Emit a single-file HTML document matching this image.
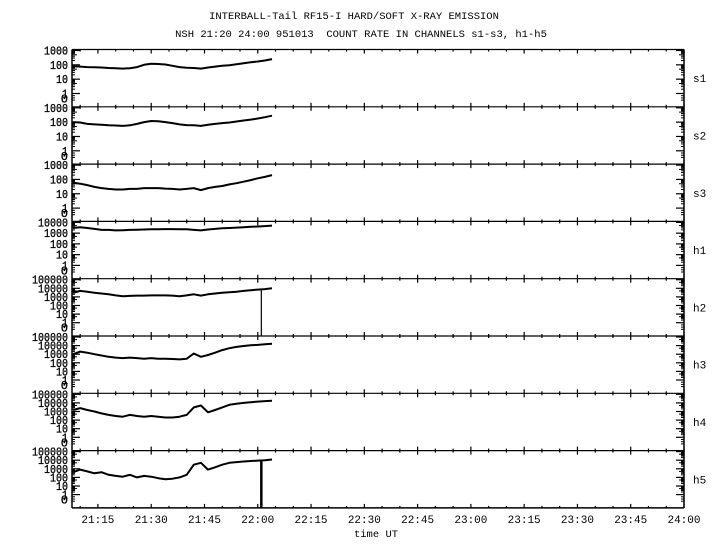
<!DOCTYPE html>
<html><head><meta charset="utf-8"><style>
body{margin:0;background:#fff}
svg{display:block}
text{font-family:"Liberation Mono",monospace;fill:#000}
</style></head><body>
<svg id="chart" width="720" height="550" xmlns="http://www.w3.org/2000/svg">
<text x="354" y="19" font-size="10.5" text-anchor="middle">INTERBALL-Tail RF15-I HARD/SOFT X-RAY EMISSION</text>
<text x="361" y="37" font-size="10.5" text-anchor="middle" xml:space="preserve">NSH 21:20 24:00 951013  COUNT RATE IN CHANNELS s1-s3, h1-h5</text>
<text x="376" y="537" font-size="10.5" text-anchor="middle">time UT</text>
</svg>
<script>
// shared sample times (minutes after 21:00), every 2 min from 21:08 to 22:04
const times = [8,10,12,14,16,18,20,22,24,26,28,30,32,34,36,38,40,42,44,46,48,50,52,54,56,58,60,62,64];
const panelNames = ["s1","s2","s3","h1","h2","h3","h4","h5"];
const panelDecades = [3,3,3,4,5,5,5,5];
const s1 = [80,75,70,68,65,60,58,55,58,70,100,120,115,105,85,70,62,60,55,65,75,85,95,110,130,150,170,200,250];
const s2 = [100,95,75,70,65,60,58,55,60,75,100,120,115,100,85,70,62,60,55,65,75,85,95,110,130,150,180,220,280];
const s3 = [60,50,40,30,25,22,20,20,22,22,25,25,25,23,22,20,22,25,18,25,30,35,45,55,70,90,120,150,200];
const h1 = [3000,3500,3000,2500,2000,2000,1800,1900,2000,2100,2200,2300,2300,2400,2400,2300,2300,2000,1800,2200,2500,2800,3000,3300,3600,4000,4200,4500,5000];
const h2 = [3000,5000,4000,3000,2500,2000,1500,1200,1300,1400,1400,1500,1500,1500,1400,1200,1500,2000,1400,2000,2500,3000,3500,4000,5000,6000,7000,8000,10000];
const h3 = [1000,2000,1500,1000,700,500,400,350,400,350,300,350,300,300,280,250,300,1200,500,800,1500,3000,5000,7000,9000,11000,12000,14000,16000];
const h4 = [1500,2500,1500,1000,600,400,300,250,400,300,250,300,250,200,200,250,400,3000,5000,800,1500,3000,6000,8000,10000,12000,14000,16000,18000];
const h5 = [400,800,500,300,400,200,150,120,200,100,150,120,80,60,70,100,200,3000,5000,800,1500,3000,5000,6000,7000,8000,9000,10000,12000];
const dropoutTimes = [null,null,null,null,[61],null,null,[61]];
const xTickLabels = ["21:15","21:30","21:45","22:00","22:15","22:30","22:45","23:00","23:15","23:30","23:45","24:00"];
const xTickMinutes = [15,30,45,60,75,90,105,120,135,150,165,180];

const series=[s1,s2,s3,h1,h2,h3,h4,h5];
const svg=document.getElementById('chart');
const NS='http://www.w3.org/2000/svg';
const L=72,R=684,TOP=49.5,PH=57.3,NP=8;
const xMin=7.7,xMax=180;
function xs(m){return L+(m-xMin)/(xMax-xMin)*(R-L);}
function mk(tag,attrs,parent){const e=document.createElementNS(NS,tag);for(const k in attrs)e.setAttribute(k,attrs[k]);(parent||svg).appendChild(e);return e;}
function ys(p,v){const top=TOP+p*PH;const n=panelDecades[p];const d=43/n;
  if(v<=0)return top+50;const lv=Math.log10(v);return top+1+(n-lv)*d;}

for(let p=0;p<NP;p++){
  const g=mk('g',{});
  
  
  const top=TOP+p*PH,bot=top+PH,n=panelDecades[p],d=43/n;
  const ln=mk('line',{x1:L,y1:top,x2:R,y2:top,stroke:'#000','stroke-width':1.2},g);
  
  
  for(let m=10;m<=180;m+=5){const x=xs(m);const big=m%15===0;
    mk('line',{x1:x,y1:top-(big?4:2)+(p===0?(big?4:2):0),x2:x,y2:top+(big?4:2),stroke:'#000','stroke-width':1.2},g);}
  mk('line',{x1:L,y1:top,x2:L,y2:bot,stroke:'#000','stroke-width':1.5},g);
  mk('line',{x1:R,y1:top,x2:R,y2:bot,stroke:'#000','stroke-width':1.5},g);
  for(let e=0;e<=n;e++){const y=top+1+(n-e)*d;
    mk('line',{x1:L,y1:y,x2:L+8,y2:y,stroke:'#000','stroke-width':1.2},g);
    mk('line',{x1:R-8,y1:y,x2:R,y2:y,stroke:'#000','stroke-width':1.2},g);
    const t=mk('text',{x:68,y:y+4,'font-size':12,'text-anchor':'end','textLength':Math.pow(10,e).toString().length*6,lengthAdjust:'spacingAndGlyphs',stroke:'#000','stroke-width':0.3},g);
    t.textContent=String(Math.pow(10,e));
    
    
    for(let k=2;k<10;k++){const yy=y-Math.log10(k)*d; if(e<n||yy>=top){
      const lk=(k===5)?5:3;
      mk('line',{x1:L,y1:yy,x2:L+lk,y2:yy,stroke:'#000','stroke-width':1},g);
      mk('line',{x1:R-lk,y1:yy,x2:R,y2:yy,stroke:'#000','stroke-width':1},g);}}
  }
  for(let k=1;k<4;k++){const yy=top+1+n*d+k*2.2;
    mk('line',{x1:L,y1:yy,x2:L+3,y2:yy,stroke:'#000','stroke-width':1},g);
    mk('line',{x1:R-3,y1:yy,x2:R,y2:yy,stroke:'#000','stroke-width':1},g);}
  const z=mk('text',{x:68,y:top+53,'font-size':12,'text-anchor':'end',stroke:'#000','stroke-width':0.3},g);
  z.textContent='0';
  
  
  const lab=mk('text',{x:693,y:top+PH/2+4,'font-size':11},g);
  lab.textContent=panelNames[p];
  
  
  const vals=series[p];
  const pts=times.map((t,i)=>xs(t).toFixed(1)+','+ys(p,vals[i]).toFixed(1)).join(' ');
  const pl=mk('polyline',{points:pts,fill:'none',stroke:'#000','stroke-width':2,'stroke-linejoin':'round'},g);
  
  
  if(dropoutTimes[p]){dropoutTimes[p].forEach(t=>{
    let i=0;while(i<times.length-1&&times[i+1]<t)i++;
    const v=vals[i]+(vals[i+1]-vals[i])*(t-times[i])/(times[i+1]-times[i]);
    const dl=mk('line',{x1:xs(t),y1:ys(p,v),x2:xs(t),y2:bot,stroke:'#000','stroke-width':p===7?2.5:1.2},g);
    
    });}
}
const by=TOP+NP*PH;
const ba=mk('line',{x1:L,y1:by,x2:R,y2:by,stroke:'#000','stroke-width':1.5});


for(let m=10;m<=180;m+=5){const big=m%15===0;mk('line',{x1:xs(m),y1:by-(big?4:2),x2:xs(m),y2:by,stroke:'#000','stroke-width':1.2});}
xTickLabels.forEach((s,i)=>{const t=mk('text',{x:xs(xTickMinutes[i]),y:by+15,'font-size':11,'text-anchor':'middle'});
  t.textContent=s;
  
  });
</script>
</body></html>
